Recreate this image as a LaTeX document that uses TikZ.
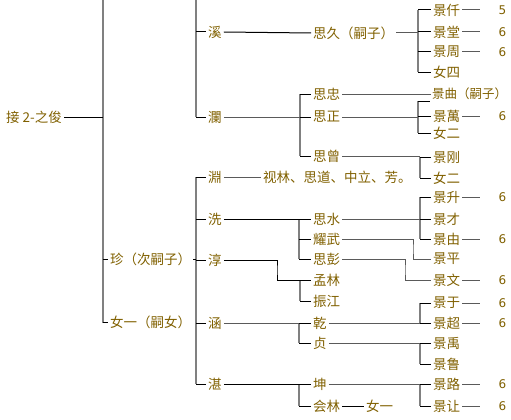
\documentclass[tikz,border=0pt]{standalone}
\usepackage{fontspec}
\setmainfont{Noto Sans CJK SC}
\newfontfamily\numfont{DejaVu Sans}
\usepackage{tikz}
\usetikzlibrary{positioning}

\definecolor{txtbrown}{RGB}{128,96,0}
\definecolor{linegray}{RGB}{128,128,128}
\definecolor{linedark}{RGB}{90,90,90}

\tikzset{
  person/.style={anchor=west, inner xsep=2pt, inner ysep=0pt, text=txtbrown,
    font=\fontsize{13.5}{13.5}\selectfont},
  numlabel/.style={anchor=west, inner sep=0pt, text=txtbrown,
    font=\numfont\fontsize{12}{12}\selectfont},
  vline/.style={draw=linegray, line width=2pt},
  bline/.style={draw=black, line width=1pt},
  gline/.style={draw=linedark, line width=1pt}
}

\begin{document}
\begin{tikzpicture}[x=1pt,y=-1pt]
\useasboundingbox (0,0) rectangle (511,420);
%draw vertical lines
\coordinate (v0) at (103,0);
\coordinate (v1) at (196,0);
\coordinate (v2a) at (300,0);
\coordinate (v2b) at (299,0);
\coordinate (v2c) at (300,0);
\coordinate (v3a) at (418,0);
\coordinate (v3b) at (420,0);
\draw[vline] (103,0) -- (103,323);
\draw[vline] (196,0) -- (196,117);
\draw[vline] (196,177) -- (196,384);
\draw[vline] (300,94) -- (300,156);
\draw[vline] (299,219) -- (299,259);
\draw[vline] (300,280) -- (300,301);
\draw[vline] (299,323) -- (299,343);
\draw[vline] (299,384) -- (299,406);
\draw[vline] (418,10) -- (418,72);
\draw[vline] (418,101) -- (418,133);
\draw[vline] (420,157) -- (420,178);
\draw[vline] (420,197) -- (420,239);
\draw[vline] (420,303) -- (420,323);
\draw[vline] (420,343) -- (420,364);
\draw[vline] (420,384) -- (420,406);
% first generations
\node[person] (jie) at (4,117) {接 2-之俊};
\node[person] (zhen) at (108,259) {珍（次嗣子）};
\node[person] (nvyi) at (108,322) {女一（嗣女）};
\draw[bline] (jie.east) -- (jie.east -| v0);
\draw[bline] (zhen.west -| v0) -- (zhen.west);
\draw[bline] (nvyi.west -| v0) -- (nvyi.west);
\draw[bline] (zhen.east) -- (zhen.east -| v1);
% sons
\node[person] (xi) at (206,32) {溪};
\node[person] (lan) at (206,117) {瀾};
\node[person] (yuan) at (206,177) {淵};
\node[person] (xian) at (206,219) {洗};
\node[person] (chun) at (206,260) {淳};
\node[person] (han) at (206,323) {涵};
\node[person] (zhan) at (206,384) {湛};
\foreach \n in {xi,lan,yuan,xian,chun,han,zhan}{
   \draw[bline] (\n.west -| v1) -- (\n.west);
}
% grandsons
\node[person] (siju) at (311,33) {思久（嗣子）};
\node[person] (sizhong) at (311,94) {思忠};
\node[person] (sizheng) at (311,117) {思正};
\node[person] (sizeng) at (311,156) {思曾};
\node[person] (shilin) at (261,177) {视林、思道、中立、芳。};
\node[person] (sishui) at (311,219) {思水};
\node[person] (yaowu) at (311,239) {耀武};
\node[person] (sipeng) at (311,259) {思彭};
\node[person] (menglin) at (311,280) {孟林};
\node[person] (zhenjiang) at (311,301) {振江};
\node[person] (qian) at (311,323) {乾};
\node[person] (zhenb) at (311,343) {贞};
\node[person] (kun) at (311,384) {坤};
\node[person] (huilin) at (311,406) {会林};
\node[person] (nvyib) at (364,406) {女一};
\draw[bline] (xi.east) -- (siju.west);
\draw[gline] (lan.east) -- (lan.east -| v2a);
\draw[gline] (yuan.east) -- (shilin.west);
\draw[bline] (xian.east) -- (xian.east -| v2b);
\coordinate (chunbend) at (277,270);
\draw[bline] (chun.east) -| (chunbend) |- (menglin.west);
\draw[gline] (han.east) -- (han.east -| v2b);
\draw[bline] (zhan.east) -- (zhan.east -| v2b);
\draw[bline] (huilin.east) -- (nvyib.west);
\foreach \n/\v in {sizhong/v2a,sizheng/v2a,sizeng/v2a,sishui/v2b,yaowu/v2b,
   sipeng/v2b,menglin/v2c,zhenjiang/v2c,qian/v2b,zhenb/v2b,kun/v2b,huilin/v2b}{
   \draw[bline] (\n.west -| \v) -- (\n.west);
}
% great-grandsons
\node[person] (jingqian) at (431,10) {景仟};
\node[person] (jingtang) at (431,32) {景堂};
\node[person] (jingzhou) at (431,52) {景周};
\node[person] (nvsi) at (431,72) {女四};
\node[person, inner xsep=1pt, font=\fontsize{12.5}{12.5}\selectfont] (jingqu) at (431,94) {景曲（嗣子）};
\coordinate (stub) at (430,101);
\node[person] (jingwan) at (431,116) {景萬};
\node[person] (nver) at (431,133) {女二};
\node[person] (jinggang) at (431,157) {景刚};
\node[person] (nverb) at (431,178) {女二};
\node[person] (jingsheng) at (431,197) {景升};
\node[person] (jingcai) at (431,219) {景才};
\node[person] (jingyou) at (431,239) {景由};
\node[person] (jingping) at (431,259) {景平};
\node[person] (jingwen) at (431,280) {景文};
\node[person] (jingyu) at (431,303) {景于};
\node[person] (jingchao) at (431,323) {景超};
\node[person] (jingyub) at (431,343) {景禹};
\node[person] (jinglu) at (431,364) {景鲁};
\node[person] (jinglub) at (431,384) {景路};
\node[person] (jingrang) at (431,406) {景让};
\draw[gline] (siju.east) -- (siju.east -| v3a);
\draw[gline] (sizhong.east) -- (jingqu.west);
\draw[gline] (sizheng.east) -- (sizheng.east -| v3a);
\draw[gline] (sizeng.east) -- (sizeng.east -| v3b);
\draw[gline] (sishui.east) -- (sishui.east -| v3b);
\coordinate (yaowubend) at (413,249);
\draw[gline] (yaowu.east) -| (yaowubend) |- (jingping.west);
\coordinate (sipengbend) at (405,270);
\draw[gline] (sipeng.east) -| (sipengbend) |- (jingwen.west);
\draw[gline] (qian.east) -- (qian.east -| v3b);
\draw[gline] (zhenb.east) -- (zhenb.east -| v3b);
\draw[gline] (kun.east) -- (kun.east -| v3b);
\draw[bline] (stub -| v3a) -- (stub);
\foreach \n/\v in {jingqian/v3a,jingtang/v3a,jingzhou/v3a,nvsi/v3a,jingwan/v3a,
   nver/v3a,jinggang/v3b,nverb/v3b,jingsheng/v3b,jingcai/v3b,jingyou/v3b,
   jingyu/v3b,jingchao/v3b,jingyub/v3b,jinglu/v3b,jinglub/v3b,jingrang/v3b}{
   \draw[bline] (\n.west -| \v) -- (\n.west);
}
% generation numbers
\foreach \n/\k in {jingqian/5,jingtang/6,jingzhou/6,jingwan/6,jingsheng/6,
   jingyou/6,jingwen/6,jingyu/6,jingchao/6,jinglub/6,jingrang/6}{
   \coordinate (e-\n) at ([xshift=18pt]\n.east);
   \draw[gline] (\n.east) -- (e-\n);
   \path (\n.east) ++(36,0) node[numlabel] (k-\n) {\k};
}
\end{tikzpicture}
\end{document}
